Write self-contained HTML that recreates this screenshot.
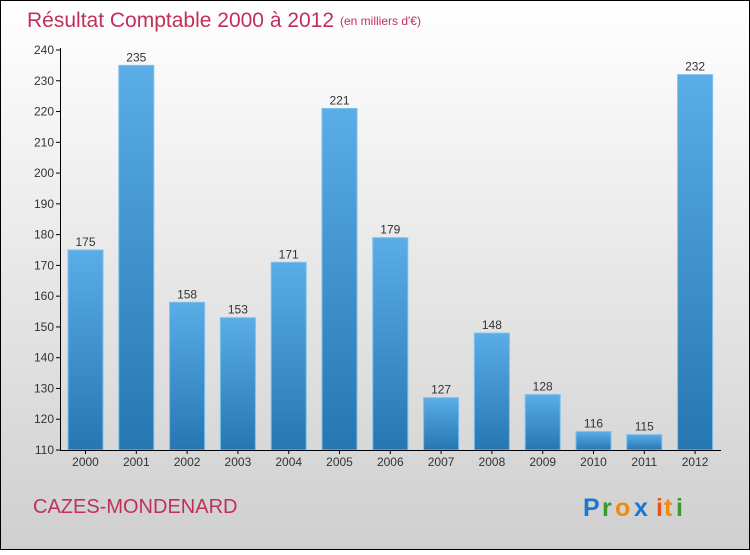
<!DOCTYPE html>
<html><head><meta charset="utf-8"><style>
body{margin:0;width:750px;height:550px;overflow:hidden;font-family:"Liberation Sans",sans-serif}
</style></head><body>
<svg id="c" width="750" height="550">
<defs>
<linearGradient id="bg" x1="0" y1="0" x2="0" y2="1"><stop offset="0" stop-color="#ffffff"/><stop offset="1" stop-color="#cfcfcf"/></linearGradient>
<linearGradient id="bar" x1="0" y1="0" x2="0" y2="1"><stop offset="0" stop-color="#5aade6"/><stop offset="1" stop-color="#2676b2"/></linearGradient>
</defs>
<rect x="0.5" y="0.5" width="749" height="549" fill="url(#bg)" stroke="#000"/>
<text x="27" y="27" font-size="21" fill="#c0305a">Résultat Comptable 2000 à 2012</text>
<text x="340" y="25" font-size="12" fill="#c0305a">(en milliers d'€)</text>
<text x="33" y="513" font-size="20" fill="#c0305a">CAZES-MONDENARD</text>
<g font-size="25" font-weight="bold">
<text x="583" y="516" fill="#1a78d0">P</text><text x="602" y="516" fill="#3a9a30">r</text><text x="615" y="516" fill="#f08a10">o</text><text x="634" y="516" fill="#1a78d0">x</text><text x="656" y="516" fill="#f05020">i</text><text x="664" y="516" fill="#f08a10">t</text><text x="676" y="516" fill="#3a9a30">i</text>
</g>
<g id="plot"></g>
</svg>
<script>
const years=["2000","2001","2002","2003","2004","2005","2006","2007","2008","2009","2010","2011","2012"];
const values=[175,235,158,153,171,221,179,127,148,128,116,115,232];
const yTicks=[110,120,130,140,150,160,170,180,190,200,210,220,230,240];
const NS="http://www.w3.org/2000/svg";
const g=document.getElementById('plot');
const y=v=>450-(v-110)*400/130;
const x=i=>85.5+i*50.8;
function el(t,a,txt){const e=document.createElementNS(NS,t);for(const k in a)e.setAttribute(k,a[k]);if(txt!=null)e.textContent=txt;g.appendChild(e);return e;}
yTicks.forEach(t=>{
 const l=el('line',{x1:56,x2:60,y1:y(t),y2:y(t),stroke:'#000'});
 
 
 const tx=el('text',{x:54,y:y(t)+4,'font-size':12,fill:'#333','text-anchor':'end'},t);
 
 
});
values.forEach((v,i)=>{
 const r=el('rect',{x:x(i)-17.5,y:y(v),width:35,height:450-y(v),fill:'url(#bar)',stroke:'#7cc0ee','stroke-width':1});
 
 
 const lb=el('text',{x:x(i),y:y(v)-4,'font-size':12,fill:'#333','text-anchor':'middle'},v);
 
 
 const xl=el('text',{x:x(i),y:466,'font-size':12,fill:'#333','text-anchor':'middle'},years[i]);
 
 
 const tk=el('line',{x1:x(i),x2:x(i),y1:450,y2:454,stroke:'#000'});
 
 
});
const ya=el('line',{x1:60.5,x2:60.5,y1:48,y2:450,stroke:'#000'});


const xa=el('line',{x1:60,x2:721,y1:450.5,y2:450.5,stroke:'#000'});


</script>
</body></html>
